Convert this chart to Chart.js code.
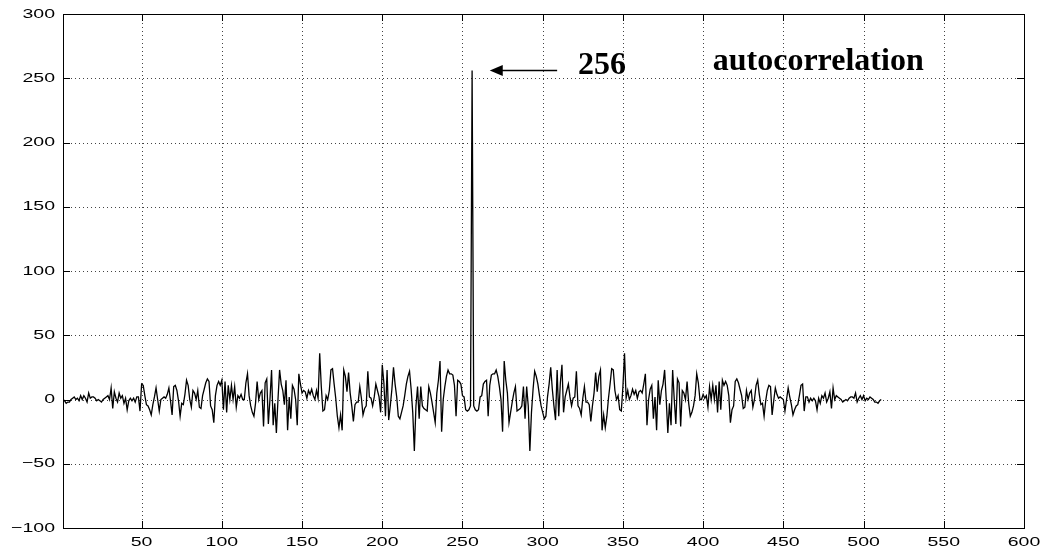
<!DOCTYPE html>
<html lang="en">
<head>
  <meta charset="UTF-8">
  <title>Autocorrelation</title>
  <script src="https://cdn.jsdelivr.net/npm/chart.js"></script>
  <style>
    body {
      margin: 0;
      background-color: white;
    }
    #wrap {
      width: 1046px;
      height: 552px;
    }
  </style>
</head>
<body>
  <div id="wrap">
    <canvas id="acfChart" width="1046" height="552"></canvas>
  </div>
  <script>
    // Values: lags 1..255, the peak at 256, then lags 257..511
    const leftLags = [
      0, -1, -3, -2, -2, 0, 1, 2, 0, 1, -1, 3, 0, 3, 1,
      -2, 5, 1, 2, 2, 1, -1, 0, -1, -2, 0, 1, 2, 3, 0,
      9, -7, 6, 1, -2, 5, 1, 3, -3, 1, -8, -1, 1, -1, 1,
      -2, 2, 2, -9, 12, 11, 3, -4, -5, -8, -12, -4, 2, 9, 0,
      -9, 0, 1, 2, 1, 4, 9, -1, -12, 10, 11, 7, -1, -13, -3,
      -4, 4, 15, 11, 0, -6, 7, 5, 0, 7, -6, -7, 3, 8, 13,
      16, 14, -5, -8, -18, 3, 11, 14, 11, 15, -8, 14, -10, 11, 0,
      11, 0, 10, -6, 3, 1, 4, 0, 0, 13, 20, 3, -5, -10, -13,
      -3, 14, 0, 5, 7, -21, 13, 16, -19, 0, 23, -20, -3, -26, 0,
      23, 12, 7, -4, 15, -24, 2, -15, 11, 8, 0, -20, 20, 12, 5,
      7, 6, 1, 7, 4, 8, 3, 0, 7, 1, 36, 10, -9, -8, 3,
      0, 7, 23, 24, 12, 1, -13, -22, -12, -24, 23, 18, 6, 21, 5,
      -5, -17, -4, -2, -2, 10, 1, -12, -7, -5, 22, 2, 1, -5, 2,
      12, 7, 2, -10, 27, 13, -13, 23, -16, -5, 8, 25, 12, 2, -13,
      -15, -10, -5, 3, 12, 18, 22, 8, -10, -40, -5, 10, -15, 10, -5,
      -7, -8, -9, 10, 5, -2, -10, -18, 5, 15, 30, -25, 0, 10, 18,
      23, 20, 20, 19, 11, -13, 15, 14, 12, 3, 2, -8, -9, -8, -5
    ];
    const peakValue = [256];
    const rightLags = [
      -5, -8, -9, -8, 2, 3, 12, 14, 15, -13, 11, 19, 20, 20, 23,
      18, 10, 0, -25, 30, 15, 5, -18, -10, -2, 5, 10, -9, -8, -7,
      -5, 10, -15, 10, -5, -40, -10, 8, 22, 18, 12, 3, -5, -10, -15,
      -13, 2, 12, 25, 8, -5, -16, 23, -13, 13, 27, -10, 2, 7, 12,
      2, -5, 1, 2, 22, -5, -7, -12, 1, 10, -2, -2, -4, -17, -5,
      5, 21, 6, 18, 23, -24, -12, -22, -13, 1, 12, 24, 23, 7, 0,
      3, -8, -9, 10, 36, 1, 7, 0, 3, 8, 4, 7, 1, 6, 7,
      5, 12, 20, -20, 0, 8, 11, -15, 2, -24, 15, -4, 7, 12, 23,
      0, -26, -3, -20, 23, 0, -19, 16, 13, -21, 7, 5, 0, 14, -3,
      -13, -10, -5, 3, 20, 13, 0, 0, 4, 1, 3, -6, 10, 0, 11,
      0, 11, -10, 14, -8, 15, 11, 14, 11, 3, -18, -8, -5, 14, 16,
      13, 8, 3, -7, -6, 7, 0, 5, 7, -6, 0, 11, 15, 4, -4,
      -3, -13, -1, 7, 11, 10, -12, -1, 9, 4, 1, 2, 1, 0, -9,
      0, 9, 2, -4, -12, -8, -5, -4, 3, 11, 12, -9, 2, 2, -2,
      1, -1, 1, -1, -8, 1, -3, 3, 1, 5, -2, 1, 6, -7, 9,
      0, 3, 2, 1, 0, -2, -1, 0, -1, 1, 2, 2, 1, 5, -2,
      1, 3, 0, 3, -1, 1, 0, 2, 1, 0, -2, -2, -3, -1, 0
    ];
    const xTicks = [50, 100, 150, 200, 250, 300, 350, 400, 450, 500, 550, 600];
    const yTicks = [-100, -50, 0, 50, 100, 150, 200, 250, 300];

    const series = leftLags.concat(peakValue, rightLags);
    const points = series.map((v, i) => ({ x: i + 1, y: v }));

    // tick labels in the old wide plotting font: draw them stretched sideways
    function wideText(ctx, text, px, py, align, stretch) {
      ctx.save();
      ctx.translate(px, py);
      ctx.scale(stretch, 1);
      ctx.textAlign = align;
      ctx.fillText(text, 0, 0);
      ctx.restore();
    }
    const fmt = v => (v < 0 ? '\u2212' + Math.abs(v) : String(v));

    // Dotted grid, boxed axes with inward tick marks, arrow and labels
    const matlabAxes = {
      id: 'matlabAxes',
      beforeDatasetsDraw(chart) {
        const { ctx, chartArea: a, scales: { x, y } } = chart;
        ctx.save();
        ctx.strokeStyle = '#444';
        ctx.lineWidth = 1;
        ctx.setLineDash([1, 3]);
        xTicks.forEach(t => {
          const px = Math.round(x.getPixelForValue(t)) + 0.5;
          if (px > a.right - 1) return;
          ctx.beginPath();
          ctx.moveTo(px, a.bottom);
          ctx.lineTo(px, a.top);
          ctx.stroke();
        });
        yTicks.forEach(t => {
          const py = Math.round(y.getPixelForValue(t)) + 0.5;
          if (py < a.top + 1 || py > a.bottom - 1) return;
          ctx.beginPath();
          ctx.moveTo(a.left, py);
          ctx.lineTo(a.right, py);
          ctx.stroke();
        });
        ctx.restore();
      },
      afterDatasetsDraw(chart) {
        const { ctx, chartArea: a, scales: { x, y } } = chart;
        ctx.save();
        ctx.strokeStyle = '#000';
        ctx.lineWidth = 1;
        ctx.strokeRect(Math.round(a.left) + 0.5, Math.round(a.top) + 0.5,
          Math.round(a.right - a.left), Math.round(a.bottom - a.top));
        const tl = 7;
        ctx.beginPath();
        xTicks.forEach(t => {
          const px = Math.round(x.getPixelForValue(t)) + 0.5;
          ctx.moveTo(px, a.bottom); ctx.lineTo(px, a.bottom - tl);
          ctx.moveTo(px, a.top); ctx.lineTo(px, a.top + tl);
        });
        yTicks.forEach(t => {
          const py = Math.round(y.getPixelForValue(t)) + 0.5;
          ctx.moveTo(a.left, py); ctx.lineTo(a.left + tl, py);
          ctx.moveTo(a.right, py); ctx.lineTo(a.right - tl, py);
        });
        ctx.stroke();

        // tick labels
        ctx.fillStyle = '#000';
        ctx.font = '13px "Liberation Sans", Arial, Helvetica, sans-serif';
        ctx.textBaseline = 'middle';
        yTicks.forEach(t => {
          wideText(ctx, fmt(t), a.left - 8, y.getPixelForValue(t), 'right', 1.5);
        });
        ctx.textBaseline = 'alphabetic';
        xTicks.forEach(t => {
          wideText(ctx, fmt(t), x.getPixelForValue(t), a.bottom + 18, 'center', 1.5);
        });

        // arrow pointing at the peak
        const tipX = x.getPixelForValue(267), tailX = x.getPixelForValue(309);
        const ay = y.getPixelForValue(256);
        ctx.lineWidth = 1.5;
        ctx.beginPath();
        ctx.moveTo(tailX, ay);
        ctx.lineTo(tipX + 12, ay);
        ctx.stroke();
        ctx.beginPath();
        ctx.moveTo(tipX, ay);
        ctx.lineTo(tipX + 13, ay - 5.5);
        ctx.lineTo(tipX + 13, ay + 5.5);
        ctx.closePath();
        ctx.fill();

        ctx.font = 'bold 32px "Liberation Serif", "Times New Roman", serif';
        ctx.textAlign = 'left';
        ctx.fillText('256', x.getPixelForValue(322), y.getPixelForValue(253.5));
        ctx.fillText('autocorrelation', x.getPixelForValue(406), y.getPixelForValue(256.5));
        ctx.restore();
      }
    };

    new Chart(document.getElementById('acfChart'), {
      type: 'line',
      data: {
        datasets: [{
          data: points,
          borderColor: '#000',
          borderWidth: 1.3,
          pointRadius: 0,
          tension: 0,
          fill: false
        }]
      },
      options: {
        responsive: false,
        animation: false,
        layout: { padding: { top: 14, right: 22, left: 0, bottom: 0 } },
        plugins: {
          legend: { display: false },
          tooltip: { enabled: false }
        },
        scales: {
          x: {
            type: 'linear',
            min: 1,
            max: 600,
            afterBuildTicks: s => { s.ticks = xTicks.map(v => ({ value: v })); },
            afterFit: s => { s.height = 24; },
            grid: { display: false, drawTicks: false },
            border: { display: false },
            ticks: { display: false }
          },
          y: {
            min: -100,
            max: 300,
            afterBuildTicks: s => { s.ticks = yTicks.map(v => ({ value: v })); },
            afterFit: s => { s.width = 63; },
            grid: { display: false, drawTicks: false },
            border: { display: false },
            ticks: { display: false }
          }
        }
      },
      plugins: [matlabAxes]
    });
  </script>
</body>
</html>
